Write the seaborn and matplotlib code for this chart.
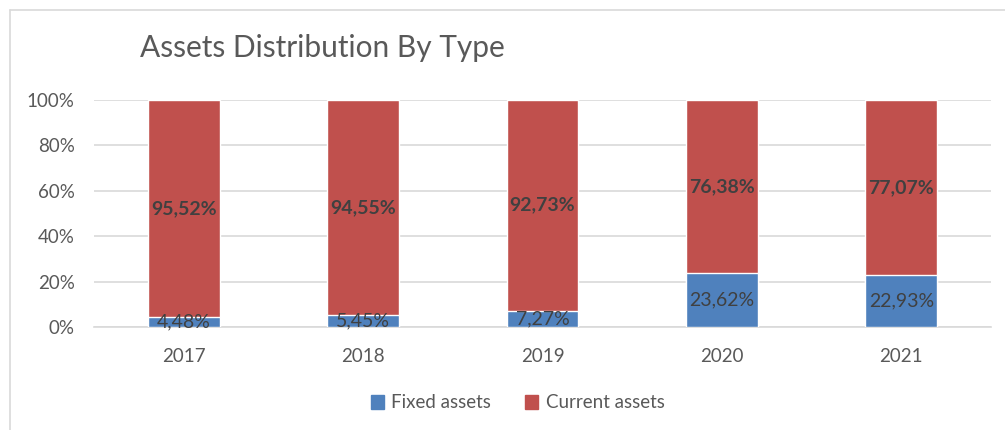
import matplotlib
matplotlib.use("Agg")
import matplotlib.pyplot as plt
import seaborn as sns
import pandas as pd
from matplotlib.lines import Line2D
from matplotlib.patches import Patch

# chart data
years = ["2017", "2018", "2019", "2020", "2021"]
fixed_assets = [4.48, 5.45, 7.27, 23.62, 22.93]
current_assets = [95.52, 94.55, 92.73, 76.38, 77.07]

df = pd.DataFrame({"year": years, "fixed": fixed_assets, "current": current_assets})
df["total"] = df["fixed"] + df["current"]

blue = "#4F81BD"
red = "#C0504D"
text_col = "#595959"

sns.set_style("white")
plt.rcParams["font.family"] = ["Lato", "DejaVu Sans"]

fig = plt.figure(figsize=(10.05, 4.3), dpi=100)
ax = fig.add_axes([0.0935, 0.2395, 0.8925, 0.528])

# stacked bars: full stack in red, fixed part in blue on top of it
sns.barplot(data=df, x="year", y="total", color=red, width=0.4, saturation=1, ax=ax, zorder=2)
sns.barplot(data=df, x="year", y="fixed", color=blue, width=0.4, saturation=1, ax=ax, zorder=3)

for i, row in df.iterrows():
    ax.text(i, row["fixed"] / 2, f"{row['fixed']:.2f}%".replace(".", ","),
            ha="center", va="center", fontsize=14, color="#404040", zorder=4)
    ax.text(i, row["fixed"] + row["current"] / 2, f"{row['current']:.2f}%".replace(".", ","),
            ha="center", va="center", fontsize=14, fontweight="bold", color="#404040", zorder=4)

ax.set_ylim(0, 100)
ax.set_xlim(-0.5, 4.5)
ax.set_yticks([0, 20, 40, 60, 80, 100])
ax.set_yticklabels([f"{v}%" for v in [0, 20, 40, 60, 80, 100]])
ax.yaxis.grid(True, color="#D9D9D9", linewidth=1.2, zorder=0)
ax.set_axisbelow(True)
for s in ["top", "right", "left"]:
    ax.spines[s].set_visible(False)
ax.spines["bottom"].set_color("#D9D9D9")
ax.spines["bottom"].set_linewidth(1.2)
ax.tick_params(axis="both", length=0, labelsize=13.5, colors=text_col)
ax.tick_params(axis="x", pad=15)
ax.tick_params(axis="y", pad=14)
ax.set_xlabel("")
ax.set_ylabel("")

fig.text(140 / 1005, 1 - 48 / 430, "Assets Distribution By Type", fontsize=21.5,
         color=text_col, ha="left", va="center")

handles = [Patch(color=blue, label="Fixed assets"), Patch(color=red, label="Current assets")]
fig.legend(handles=handles, loc="center", bbox_to_anchor=(0.515, 1 - 403 / 430), ncol=2,
           frameon=False, fontsize=13.5, labelcolor=text_col, handlelength=0.7, handleheight=0.7,
           handletextpad=0.4, columnspacing=1.8)

# chart frame (only top and left edges visible in the crop)
fig.add_artist(Line2D([10 / 1005, 10 / 1005], [0, 1 - 10 / 430], color="#D9D9D9", lw=1.2))
fig.add_artist(Line2D([10 / 1005, 1], [1 - 10 / 430, 1 - 10 / 430], color="#D9D9D9", lw=1.2))

fig.savefig("out.png", dpi=100, facecolor="white")
